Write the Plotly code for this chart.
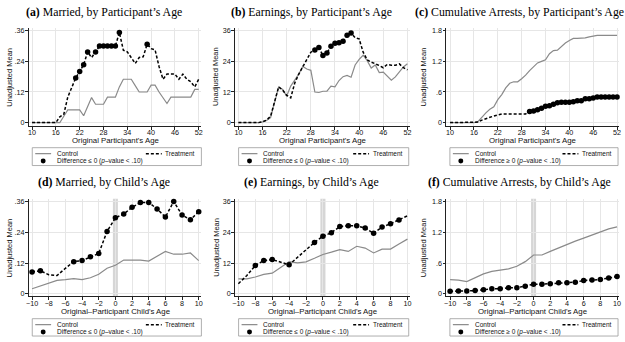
import plotly.graph_objects as go

# ---------------- data ----------------
ages = list(range(10, 53))
child_ages = list(range(-10, 11))

married_age_control = [0, 0, 0, 0, 0, 0, 0, 0, .025, .05, .05, .05, .05, .027, .065, .098, .072, .072, .072,
                       .10, .10, .10, .14, .17, .17, .17, .145, .12, .12, .12, .147, .147, .12, .098, .075,
                       .10, .10, .10, .10, .10, .10, .13, .13]
married_age_treat = [0, 0, 0, 0, 0, 0, 0, .023, .033, .10, .135, .175, .20, .227, .277, .255, .277, .30, .30,
                     .30, .30, .30, .353, .284, .277, .255, .232, .255, .258, .307, .29, .285, .22, .17, .19,
                     .19, .19, .17, .19, .17, .16, .14, .17]
married_age_sig = [0, 0, 0, 0, 0, 0, 0, 0, 0, 0, 0, 1, 1, 1, 1, 0, 1, 1, 1, 1, 1, 1, 1, 0, 0, 0, 0, 0, 0, 1,
                   0, 0, 0, 0, 0, 0, 0, 0, 0, 0, 0, 0, 0]

earn_age_control = [0, 0, 0, 0, 0, 0, 0.3, 0.8, 2, 8, 14, 13, 10.4, 14.3, 16.5, 19, 22, 21, 20.5, 12, 11.8,
                    12.3, 12.3, 14.3, 14, 16.5, 18, 18.5, 17.8, 22.6, 24.8, 26.4, 24.3, 21.4, 22.6, 19.6,
                    19.8, 18.2, 16.6, 17.9, 19.8, 21.8, 23.1]
earn_age_treat = [0, 0, 0, 0, 0, 0, 0.3, 1, 2.5, 8, 14, 12.7, 10.7, 9.7, 15.5, 19, 22, 25, 27.6, 28.5, 29.4,
                  26.3, 27.3, 29.9, 31.1, 31.3, 31.9, 34.2, 35.1, 33.3, 32.8, 27.6, 24.6, 23.7, 23.2, 22.4,
                  21.5, 22.8, 22.5, 22.5, 23, 21.5, 20.7]
earn_age_sig = [0] * 19 + [1] * 10 + [0] * 14

arrest_age_control = [0, 0, 0, 0, 0, 0, 0, 0.02, 0.11, 0.19, 0.26, 0.31, 0.45, 0.55, 0.68, 0.77, 0.80, 0.80,
                      0.86, 0.93, 1.02, 1.09, 1.17, 1.20, 1.23, 1.35, 1.41, 1.42, 1.49, 1.56, 1.61, 1.65,
                      1.65, 1.65, 1.66, 1.68, 1.70, 1.71, 1.71, 1.71, 1.71, 1.71, 1.71]
arrest_age_treat = [0, 0, 0, 0, 0, 0, 0, 0.01, 0.05, 0.08, 0.11, 0.13, 0.15, 0.17, 0.17, 0.17, 0.17, 0.17,
                    0.17, 0.17, 0.22, 0.23, 0.25, 0.28, 0.32, 0.33, 0.36, 0.39, 0.40, 0.40, 0.40, 0.41,
                    0.43, 0.43, 0.47, 0.47, 0.48, 0.50, 0.50, 0.50, 0.50, 0.50, 0.50]
arrest_age_sig = [0] * 20 + [1] * 23

married_child_control = [.02, .032, .043, .053, .056, .06, .056, .063, .077, .10, .112, .132, .132, .132,
                         .128, .148, .166, .155, .155, .16, .13]
married_child_treat = [.086, .09, .075, .072, .10, .126, .13, .145, .158, .244, .297, .312, .338, .357, .357,
                       .332, .30, .361, .308, .29, .321]
married_child_sig = [1, 1, 0, 0, 0, 1, 1, 1, 1, 1, 1, 1, 1, 1, 1, 1, 1, 1, 1, 1, 1]

earn_child_control = [5.9, 5.9, 6.6, 7.6, 8.1, 10.5, 12.6, 12.1, 12.5, 13.9, 15.4, 16.3, 17.3, 16.6, 18.6,
                      17.9, 16.0, 17.5, 17.5, 19.5, 21.4]
earn_child_treat = [4.0, 7.2, 11.1, 13.0, 13.4, 12.4, 11.4, 14.3, 17.2, 20.1, 22.5, 23.9, 26.3, 26.6, 26.6,
                    25.7, 23.7, 26.1, 27.4, 28.9, 30.5]
earn_child_sig = [0, 0, 1, 1, 1, 0, 1, 0, 0, 1, 1, 1, 1, 1, 1, 1, 1, 1, 1, 1, 0]

arrest_child_control = [.28, .27, .24, .32, .39, .44, .47, .49, .54, .63, .76, .76, .83, .90, .96, 1.03, 1.09,
                        1.15, 1.20, 1.27, 1.31]
arrest_child_treat = [.05, .055, .055, .065, .08, .10, .10, .12, .12, .15, .19, .19, .20, .22, .22, .23, .26,
                      .27, .28, .31, .34]
arrest_child_sig = [1] * 21

age_ticks = [10, 16, 22, 28, 34, 40, 46, 52]
child_ticks = [-10, -8, -6, -4, -2, 0, 2, 4, 6, 8, 10]
child_tick_text = ["\u221210", "\u22128", "\u22126", "\u22124", "\u22122", "0", "2", "4", "6", "8", "10"]
married_ticks = [0, .12, .24, .36]
married_tick_text = ["0", ".12", ".24", ".36"]
earn_ticks = [0, 12, 24, 36]
earn_tick_text = ["0", "12", "24", "36"]
arrest_ticks = [0, .6, 1.2, 1.8]
arrest_tick_text = ["0", ".6", "1.2", "1.8"]

titles = ["<b>(a)</b> Married, by Participant\u2019s Age",
          "<b>(b)</b> Earnings, by Participant\u2019s Age",
          "<b>(c)</b> Cumulative Arrests, by Participant\u2019s Age",
          "<b>(d)</b> Married, by Child\u2019s Age",
          "<b>(e)</b> Earnings, by Child\u2019s Age",
          "<b>(f)</b> Cumulative Arrests, by Child\u2019s Age"]
x_titles = ["Original Participant's Age", "Original\u2013Participant Child's Age"]
sig_labels = ["Difference \u2264 0 (<i>p</i>\u2013value &lt; .10)",
              "Difference \u2264 0 (<i>p</i>\u2013value &lt; .10)",
              "Difference \u2265 0 (<i>p</i>\u2013value &lt; .10)"]

# ---------------- layout geometry (pixels) ----------------
W, H = 625, 342
cols = [dict(l=26, r=200, d0=29.3, d1=197.3, ytitle=7, legl=29.5, legr=200, tc=102),
        dict(l=234, r=410, d0=237.3, d1=407.7, ytitle=215, legl=237.5, legr=409, tc=311),
        dict(l=447, r=621, d0=450.7, d1=619, ytitle=424, legl=450.5, legr=620, tc=521)]
rows = [dict(t=27, b=126, v1=30, v0=122.7, title=11, xtitle=140.5, legt=148, legb=166),
        dict(t=199.5, b=298, v1=202.5, v0=295.5, title=183, xtitle=313.5, legt=320.5, legb=338)]

SANS = "Liberation Sans"
SERIF = "Liberation Serif"
GRAY = "#8a8a8a"
TXT = "#111"


def px(x):
    return x / W


def py(y):
    return 1 - y / H


panels = [
    (ages, married_age_control, married_age_treat, married_age_sig, age_ticks, [str(t) for t in age_ticks], married_ticks, married_tick_text),
    (ages, earn_age_control, earn_age_treat, earn_age_sig, age_ticks, [str(t) for t in age_ticks], earn_ticks, earn_tick_text),
    (ages, arrest_age_control, arrest_age_treat, arrest_age_sig, age_ticks, [str(t) for t in age_ticks], arrest_ticks, arrest_tick_text),
    (child_ages, married_child_control, married_child_treat, married_child_sig, child_ticks, child_tick_text, married_ticks, married_tick_text),
    (child_ages, earn_child_control, earn_child_treat, earn_child_sig, child_ticks, child_tick_text, earn_ticks, earn_tick_text),
    (child_ages, arrest_child_control, arrest_child_treat, arrest_child_sig, child_ticks, child_tick_text, arrest_ticks, arrest_tick_text),
]

fig = go.Figure()
layout = dict(width=W, height=H, margin=dict(l=0, r=0, t=0, b=0),
              paper_bgcolor="white", plot_bgcolor="white", showlegend=False)
shapes = []
annotations = []

for i, (xs, ctrl, trt, sig, xt, xtt, yt, ytt) in enumerate(panels):
    r = rows[i // 3]
    c = cols[i % 3]
    n = "" if i == 0 else str(i + 1)
    xa, ya = "x" + n, "y" + n
    a0, a1 = xt[0], xt[-1]
    s = (a1 - a0) / (c["d1"] - c["d0"])
    xr = [a0 - (c["d0"] - c["l"]) * s, a1 + (c["r"] - c["d1"]) * s]
    b0, b1 = yt[0], yt[-1]
    sy = (b1 - b0) / (r["v0"] - r["v1"])
    yr = [b0 - (r["b"] - r["v0"]) * sy, b1 + (r["v1"] - r["t"]) * sy]

    axis_common = dict(showline=True, linecolor="#222", linewidth=0.8, ticks="outside", ticklen=3,
                       tickwidth=0.8, tickcolor="#222", showgrid=True, gridcolor="#e6e6e6", gridwidth=0.8,
                       zeroline=False, tickfont=dict(family=SANS, size=7.2, color=TXT))
    layout["xaxis" + n] = dict(axis_common, domain=[px(c["l"]), px(c["r"])], range=xr, anchor=ya,
                               tickmode="array", tickvals=xt, ticktext=xtt, ticklabelstandoff=-3)
    layout["yaxis" + n] = dict(axis_common, domain=[py(r["b"]), py(r["t"])], range=yr, anchor=xa,
                               tickmode="array", tickvals=yt, ticktext=ytt, tickangle=0,
                               ticklabelstandoff=-1)

    fig.add_trace(go.Scatter(x=xs, y=ctrl, mode="lines", line=dict(color=GRAY, width=1.2),
                             xaxis=xa, yaxis=ya, cliponaxis=False))
    fig.add_trace(go.Scatter(x=xs, y=trt, mode="lines", line=dict(color="black", width=1.5, dash="3px,2px"),
                             xaxis=xa, yaxis=ya, cliponaxis=False))
    sx = [x for x, f in zip(xs, sig) if f]
    sv = [v for v, f in zip(trt, sig) if f]
    fig.add_trace(go.Scatter(x=sx, y=sv, mode="markers", marker=dict(color="black", size=5.5),
                             xaxis=xa, yaxis=ya, cliponaxis=False))

    if i >= 3:
        shapes.append(dict(type="rect", xref=xa, yref=ya + " domain", x0=-0.3, x1=0.3, y0=0, y1=1,
                           fillcolor="#d6d6d6", line=dict(width=0), layer="below"))

    annotations.append(dict(text=titles[i], xref="paper", yref="paper", x=px(c["tc"]), y=py(r["title"]),
                            showarrow=False, xanchor="center", yanchor="middle",
                            font=dict(family=SERIF, size=11.8, color="black")))
    annotations.append(dict(text=x_titles[i // 3], xref="paper", yref="paper",
                            x=px((c["l"] + c["r"]) / 2), y=py(r["xtitle"]), showarrow=False,
                            xanchor="center", yanchor="middle", font=dict(family=SANS, size=7.8, color=TXT)))
    annotations.append(dict(text="Unadjusted Mean", xref="paper", yref="paper", textangle=-90,
                            x=px(c["ytitle"]), y=py((r["t"] + r["b"]) / 2), showarrow=False,
                            xanchor="center", yanchor="middle", font=dict(family=SANS, size=7.5, color=TXT)))
    L, R, T, B = c["legl"], c["legr"], r["legt"], r["legb"]
    shapes.append(dict(type="rect", xref="paper", yref="paper", x0=px(L), x1=px(R), y0=py(B), y1=py(T),
                       line=dict(color="#9a9a9a", width=0.8), fillcolor="white", layer="above"))
    y1r, y2r = T + 6, T + 13.5
    shapes.append(dict(type="line", xref="paper", yref="paper", x0=px(L + 3), x1=px(L + 19), y0=py(y1r),
                       y1=py(y1r), line=dict(color=GRAY, width=1.2)))
    shapes.append(dict(type="line", xref="paper", yref="paper", x0=px(R - 56), x1=px(R - 40), y0=py(y1r),
                       y1=py(y1r), line=dict(color="black", width=1.5, dash="3px,2px")))
    shapes.append(dict(type="circle", xref="paper", yref="paper", x0=px(L + 8.5), x1=px(L + 13.5),
                       y0=py(y2r + 2.5), y1=py(y2r - 2.5), fillcolor="black", line=dict(width=0)))
    annotations.append(dict(text="Control", xref="paper", yref="paper", x=px(L + 23), y=py(y1r),
                            showarrow=False, xanchor="left", yanchor="middle",
                            font=dict(family=SANS, size=6.5, color=TXT)))
    annotations.append(dict(text="Treatment", xref="paper", yref="paper", x=px(R - 4), y=py(y1r),
                            showarrow=False, xanchor="right", yanchor="middle",
                            font=dict(family=SANS, size=6.5, color=TXT)))
    annotations.append(dict(text=sig_labels[i % 3], xref="paper", yref="paper", x=px(L + 23), y=py(y2r),
                            showarrow=False, xanchor="left", yanchor="middle",
                            font=dict(family=SANS, size=6.5, color=TXT)))

layout["shapes"] = shapes
layout["annotations"] = annotations
fig.update_layout(**layout)
fig.write_html("out.html", config={"displayModeBar": False},
               post_script="document.body.style.margin='0';document.body.style.overflow='hidden';")
